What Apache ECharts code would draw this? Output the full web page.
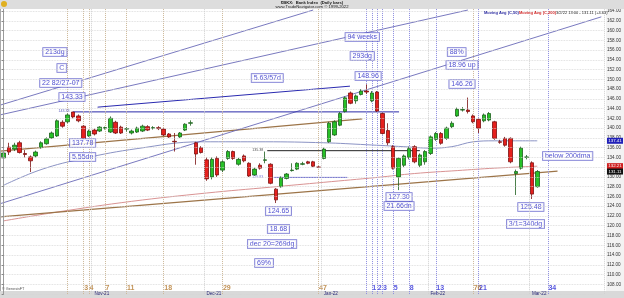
<!DOCTYPE html>
<html><head><meta charset="utf-8">
<script src="https://cdn.jsdelivr.net/npm/echarts@6/dist/echarts.min.js"></script>
<style>html,body{margin:0;padding:0;background:#fff}#c{width:624px;height:298px}</style>
</head><body><div id="c"></div>
<script>
const dates = [
'2021-10-07','2021-10-08','2021-10-11','2021-10-12','2021-10-13','2021-10-14','2021-10-15','2021-10-18','2021-10-19','2021-10-20','2021-10-21','2021-10-22','2021-10-25','2021-10-26','2021-10-27','2021-10-28','2021-10-29',
'2021-11-01','2021-11-02','2021-11-03','2021-11-04','2021-11-05','2021-11-08','2021-11-09','2021-11-10','2021-11-11','2021-11-12','2021-11-15','2021-11-16','2021-11-17','2021-11-18','2021-11-19','2021-11-22','2021-11-23','2021-11-24','2021-11-26','2021-11-29','2021-11-30',
'2021-12-01','2021-12-02','2021-12-03','2021-12-06','2021-12-07','2021-12-08','2021-12-09','2021-12-10','2021-12-13','2021-12-14','2021-12-15','2021-12-16','2021-12-17','2021-12-20','2021-12-21','2021-12-22','2021-12-23','2021-12-27','2021-12-28','2021-12-29','2021-12-30','2021-12-31',
'2022-01-03','2022-01-04','2022-01-05','2022-01-06','2022-01-07','2022-01-10','2022-01-11','2022-01-12','2022-01-13','2022-01-14','2022-01-18','2022-01-19','2022-01-20','2022-01-21','2022-01-24','2022-01-25','2022-01-26','2022-01-27','2022-01-28','2022-01-31',
'2022-02-01','2022-02-02','2022-02-03','2022-02-04','2022-02-07','2022-02-08','2022-02-09','2022-02-10','2022-02-11','2022-02-14','2022-02-15','2022-02-16','2022-02-17','2022-02-18','2022-02-22','2022-02-23','2022-02-24','2022-02-25','2022-02-28',
'2022-03-01','2022-03-02',
'2022-03-03','2022-03-04','2022-03-07','2022-03-08','2022-03-09','2022-03-10','2022-03-11','2022-03-14','2022-03-15','2022-03-16','2022-03-17','2022-03-18'
];
// [open, close, low, high]
const ohlc = [
[133.9,134.9,132.0,135.2],[136.1,135.1,134.5,137.0],[135.7,136.5,135.3,137.0],[137.0,135.0,134.8,137.4],[134.8,134.6,134.0,135.5],
[134.1,133.3,131.0,134.4],[134.3,135.1,134.0,135.4],[136.0,137.0,135.8,137.3],[136.8,137.8,136.6,138.1],[138.0,139.0,137.8,139.3],
[138.4,141.5,138.2,141.8],[141.2,140.4,140.1,141.6],[141.3,142.7,141.0,143.0],[143.3,142.3,142.0,143.33],[142.5,141.5,141.2,142.8],
[140.4,137.8,137.78,140.6],[138.4,139.4,138.2,139.7],[139.6,138.8,138.5,139.9],[139.4,140.2,139.2,140.4],[140.0,140.1,139.7,140.3],
[139.2,142.0,139.0,142.4],[141.2,139.0,138.8,141.5],[140.2,139.0,138.8,140.5],[139.8,139.9,139.3,140.2],[139.0,139.4,138.7,139.7],
[139.2,140.0,139.0,140.3],[139.4,140.4,139.2,140.7],[140.3,139.6,139.4,140.6],[140.0,140.1,139.7,140.4],[140.1,139.9,139.6,140.4],
[139.8,138.6,138.4,140.0],[138.8,138.2,138.0,139.0],[137.3,137.2,135.2,139.0],[138.2,139.0,138.0,139.2],[139.6,140.8,139.4,141.0],
[141.0,141.1,140.5,141.6],[137.0,134.7,132.5,137.2],[136.0,135.0,134.8,136.3],[133.5,129.6,129.2,134.0],[130.0,133.6,129.5,134.0],
[133.8,130.4,130.0,134.2],[131.4,133.1,131.0,133.4],[133.8,135.2,133.5,135.5],[135.2,133.8,133.5,135.4],[132.6,133.6,132.3,133.9],
[134.3,133.3,133.0,134.6],[132.8,130.2,130.0,133.0],[130.4,131.6,130.2,131.9],[132.4,131.8,131.5,132.8],[133.4,133.5,132.8,135.2],
[132.6,128.7,128.5,132.8],[127.5,125.3,124.65,127.7],[128.0,129.9,127.8,130.1],[129.7,130.6,129.5,130.8],[131.3,131.4,131.1,132.8],
[131.6,132.8,131.4,133.0],[132.6,132.7,132.4,133.1],[133.1,132.8,132.6,133.3],[133.1,132.2,132.0,133.3],[132.0,132.0,131.8,132.2],
[133.8,135.7,133.6,136.0],[137.2,141.0,137.0,141.3],[138.6,141.3,138.4,141.6],[140.6,143.0,140.4,143.3],[143.4,146.2,143.2,146.5],
[147.2,145.1,144.9,147.5],[145.6,146.6,145.0,146.9],[146.9,147.6,146.7,148.0],[147.6,147.4,147.0,148.96],[145.6,147.2,145.3,147.6],
[147.4,143.5,143.3,147.6],[143.0,138.9,138.7,143.2],[139.5,137.0,136.5,141.0],[136.2,131.8,131.5,136.5],[130.0,133.8,127.3,134.0],
[132.4,134.3,132.0,134.6],[134.0,135.8,133.6,136.2],[136.2,133.1,132.8,136.5],[132.4,134.5,132.0,134.8],[133.1,135.2,132.5,135.5],
[134.8,138.2,134.5,138.5],[137.7,138.9,137.4,139.2],[138.9,136.9,136.6,139.2],[137.9,140.0,137.6,140.3],[140.3,141.0,140.0,141.4],
[142.5,143.85,142.3,144.2],[143.7,143.8,143.4,144.3],[143.7,143.4,143.0,146.26],[142.5,141.3,141.0,142.8],[141.8,140.0,139.0,142.0],
[141.5,142.7,141.2,143.0],[141.66,143.0,141.4,143.3],[141.3,137.9,137.6,141.5],[137.2,137.1,136.8,137.6],[137.9,136.5,136.2,138.2],
[137.9,133.1,132.8,138.1],[130.7,131.1,126.3,131.5],[131.8,135.9,131.5,136.2],[134.0,134.1,133.6,134.5],[132.9,126.48,125.48,133.2],
[128.0,131.11,127.8,131.4]
];
// moving averages: [bar index, value]
const ma50Pts = [[0,128.3],[7,131.5],[15,133.8],[25,135.8],[37,137.2],[49,137.2],[60,137.0],[68,136.6],[75,136.2],[80,135.9],[84,136.2],[88,137.2],[92,137.4],[100,137.4]];
const ma200Pts = [[0,121.0],[10,122.8],[24,125.0],[38,126.7],[50,127.9],[60,128.9],[70,129.9],[77,130.7],[85,131.3],[92,131.8],[100,132.2]];
// trend lines [[bar, price],[bar, price]]
const brownLines = [[[-0.7,121.8],[103.8,131.2]],[[-0.7,135.3],[67.2,141.9]]];
const blueDiag = [[[-0.7,144.7],[58.0,164.2]],[[-0.7,142.7],[87.0,164.2]],[[-0.7,124.5],[112.0,162.8]]];
const hLines = [
 {pts:[[13,143.33],[74.1,143.33]], color:'#2a2aa8'},
 {pts:[[49.4,135.38],[78,135.38]], color:'#222222'},
 {pts:[[50.7,129.9],[64.4,129.9]], color:'#5a5ad0'}
];
const arrowLine = [[17.6,144.3],[64.9,148.6]];
const lucasPivot = 12, lucasSteps = [0,3,4,7,11,18,29,47,76];
const fibPivot = 68, fibSteps = [0,1,2,3,5,8,13,21,34];
const notes = [
 [9.6,155.6,'213dg'],[10.9,152.32,'C'],[10.7,149.25,'22 82/27-07'],[12.8,146.38,'143.33'],
 [49.4,150.27,'5.63/57d'],[67.2,158.67,'94 weeks'],[67.2,154.78,'293dg'],[68.3,150.68,'148.96'],
 [84.9,155.6,'88%'],[85.9,152.94,'18.96 up'],[85.9,149.04,'146.26'],
 [14.8,136.95,'137.78'],[14.8,134.08,'5.55dn'],[74.1,125.89,'127.30'],[74.1,124.04,'21.66dn'],
 [51.5,123.02,'124.65'],[51.5,119.33,'18.68'],[50.3,116.26,'dec 20=269dg'],[48.8,112.37,'69%'],
 [105.7,134.29,'below 200dma'],[98.8,123.84,'125.48'],[97.8,120.36,'3/1=340dg']
];
const tinyNotes = [[11.3,143.6,'143.33','#2a2aa8'],[47.6,135.6,'135.38','#222'],[47.6,130.0,'129.83','#5a5ad0']];
const lastClose = 131.11, ma50Last = 137.41, ma200Last = 132.21;

const N = dates.length;
const MON = ['Jan','Feb','Mar','Apr','May','Jun','Jul','Aug','Sep','Oct','Nov','Dec'];
const monthStart = new Set();
for (let i = 1; i < N; i++) if (dates[i].slice(5,7) !== dates[i-1].slice(5,7)) monthStart.add(i);

const chart = echarts.init(document.getElementById('c'), null, {renderer:'canvas'});
const FONT = 'Liberation Sans, Arial, sans-serif';
const series = [];
series.push({type:'candlestick', xAxisIndex:0, yAxisIndex:0, data: ohlc, barWidth:4, z:5,
  itemStyle:{color:'#27c127', color0:'#e5201d', borderColor:'#1d5e1d', borderColor0:'#7a1010', borderWidth:0.8}});
series.push({type:'line', xAxisIndex:1, data: ma50Pts, smooth:0.4, symbol:'none', lineStyle:{color:'#8b93c4', width:1}, z:3});
series.push({type:'line', xAxisIndex:1, data: ma200Pts, smooth:0.4, symbol:'none', lineStyle:{color:'#d99393', width:1}, z:3});
brownLines.forEach(l => series.push({type:'line', xAxisIndex:1, data:l, symbol:'none', lineStyle:{color:'#9c7448', width:1.3}, z:3}));
blueDiag.forEach(l => series.push({type:'line', xAxisIndex:1, data:l, symbol:'none', lineStyle:{color:'#6a6ab8', width:0.9}, z:3}));
hLines.forEach(h => series.push({type:'line', xAxisIndex:1, data:h.pts, symbol:'none', lineStyle:{color:h.color, width:1}, z:3}));
const vlines = [];
lucasSteps.forEach(s => vlines.push({xAxis: lucasPivot + s, lineStyle:{color:'#cdb898', type:'dotted', width:1}}));
fibSteps.forEach(s => vlines.push({xAxis: fibPivot + s, lineStyle:{color:'#8d8de0', type:'dotted', width:1}}));
series.push({type:'scatter', xAxisIndex:1, data:[], symbolSize:0, silent:true,
  markLine:{silent:true, symbol:['none','none'], label:{show:false}, data: vlines}});
series.push({type:'scatter', xAxisIndex:1, data:[], symbolSize:0, silent:true,
  markLine:{silent:true, symbol:['none','arrow'], symbolSize:[0,5], label:{show:false}, lineStyle:{color:'#2a2ab0', width:1, type:'solid'},
    data:[[{coord:arrowLine[0]},{coord:arrowLine[1]}]]}});
// step numbers at the bottom
const stepLabels = [];
lucasSteps.forEach(s => { if (s) stepLabels.push({value:[lucasPivot + s, 107.3, String(s)], label:{color:'#b3772c'}}); });
fibSteps.forEach(s => { if (s) stepLabels.push({value:[fibPivot + s, 107.3, String(s)], label:{color:'#2a2ad6'}}); });
series.push({type:'scatter', xAxisIndex:1, data: stepLabels, symbolSize:0, z:8, silent:true,
  label:{show:true, position:'right', distance:0.5, fontSize:7, fontWeight:'bold', fontFamily:FONT, formatter:p => p.value[2]}});
series.push({type:'scatter', xAxisIndex:1, data: notes, symbolSize:0, z:9, silent:true,
  label:{show:true, position:'inside', fontSize:7, fontFamily:FONT, color:'#2020c4', backgroundColor:'#ffffff',
    borderColor:'#5858c8', borderWidth:0.8, padding:[1,2,0,2], formatter:p => p.value[2]}});
series.push({type:'scatter', xAxisIndex:1, data: tinyNotes.map(t => ({value:[t[0],t[1],t[2]], label:{color:t[3]}})), symbolSize:0, z:9, silent:true,
  label:{show:true, position:'inside', fontSize:3.6, fontFamily:FONT, formatter:p => p.value[2]}});

const option = {
  animation:false,
  backgroundColor:'#ffffff',
  grid:{left:1, right:18.4, top:1.24, bottom:3.94, show:false},
  xAxis:[
    {type:'category', data:dates, boundaryGap:true, z:50,
      axisLine:{show:false}, axisTick:{show:false},
      axisLabel:{interval:(i)=>monthStart.has(i), margin:-2.5, fontSize:4.6, color:'#2b2b7a', fontFamily:FONT, align:'left',
        formatter:(v)=> MON[+v.slice(5,7)-1] + '-' + v.slice(2,4)},
      splitLine:{show:true, interval:(i)=>monthStart.has(i), lineStyle:{color:'#cfcfcf', type:'dotted', width:1}}},
    {type:'value', min:-0.5, max:N-0.5, show:false}
  ],
  yAxis:[{type:'value', position:'right', min:106, max:166, interval:2, z:50,
    axisLine:{show:true, lineStyle:{color:'#9a9a9a', width:1}},
    axisTick:{show:true, inside:true, length:2, lineStyle:{color:'#888'}},
    axisLabel:{fontSize:4.6, color:'#333', margin:3, fontFamily:FONT, formatter:v => (v>=108 && v<=164) ? v.toFixed(2) : ''},
    splitLine:{show:true, lineStyle:{color:'#d6d6d6', type:'dotted', width:0.8}}}],
  series: series
};
chart.setOption(option);

const py = v => chart.convertToPixel({yAxisIndex:0}, v);
const boxes = [[ma50Last,'#2020b8'],[ma200Last,'#d02020'],[lastClose,'#111111']];
const graphic = [
  {type:'rect', shape:{x:0,y:0,width:624,height:9}, style:{fill:'#dddddd'}, z:100},
  {type:'text', x:312, y:1, style:{text:'$BKX:  Bank Index  (Daily bars)', fill:'#222', textAlign:'center', font:'bold 4.2px '+FONT}, z:101},
  {type:'text', x:312, y:5, style:{text:'www.TradeNavigator.com \u00a9 1999-2022', fill:'#222', textAlign:'center', font:'4.2px '+FONT}, z:101},
  {type:'circle', shape:{cx:4,cy:4,r:3}, style:{fill:'#e0b020'}, z:101},
  {type:'rect', shape:{x:606,y:9,width:18,height:282}, style:{fill:'#f3f3f3'}, z:0},
  {type:'rect', shape:{x:0,y:291,width:624,height:7}, style:{fill:'#d9d9d9'}, z:0},
  {type:'line', shape:{x1:0.5,y1:9,x2:0.5,y2:291}, style:{stroke:'#aaa', lineWidth:1}, z:60},
  {type:'text', x:2, y:287, style:{text:'\u00a9 GenesisFT', font:'3.8px '+FONT, fill:'#555'}, z:60},
  {type:'text', x:484, y:11, style:{text:'Moving Avg (C,50)', font:'bold 4px '+FONT, fill:'#2a2aa0'}, z:60},
  {type:'text', x:519, y:11, style:{text:'Moving Avg (C,200)', font:'bold 4px '+FONT, fill:'#d02828'}, z:60},
  {type:'text', x:556, y:11, style:{text:'3/2/22 13:00 - 131.11 (+4.63)', font:'4px '+FONT, fill:'#222'}, z:60}
];
boxes.forEach(b => {
  const y = py(b[0]);
  graphic.push({type:'rect', shape:{x:607, y:y-3, width:16, height:6}, style:{fill:b[1]}, z:70});
  graphic.push({type:'text', x:615, y:y-2.2, style:{text:b[0].toFixed(2), font:'4.4px '+FONT, fill:'#fff', textAlign:'center'}, z:71});
});
chart.setOption({graphic: graphic});
</script></body></html>
